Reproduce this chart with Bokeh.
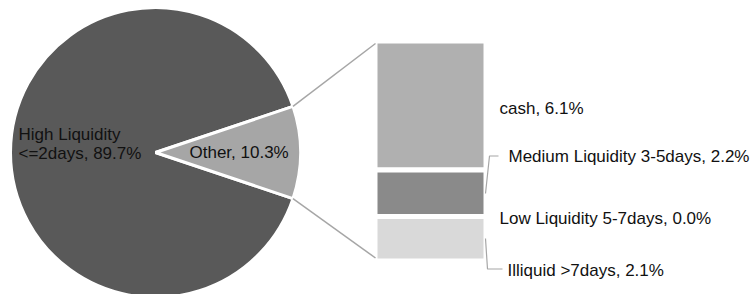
from bokeh.plotting import figure
from bokeh.models import Range1d
from bokeh.embed import file_html
from bokeh.resources import INLINE
from bokeh.core.properties import value
import math

# ---- data ----
pie_names = ["High Liquidity\n<=2days", "Other"]
pie_values = [89.7, 10.3]
pie_colors = ["#595959", "#a6a6a6"]

bar_names = ["cash", "Medium Liquidity 3-5days", "Low Liquidity 5-7days", "Illiquid >7days"]
bar_values = [6.1, 2.2, 0.0, 2.1]
bar_colors = ["#b0b0b0", "#8a8a8a", "#c8c8c8", "#d9d9d9"]

W, H = 754, 294
FONT = value("Liberation Sans")
FS = "17px"
TXT = "#111111"
LINEC = "#a6a6a6"

p = figure(width=W, height=H, output_backend="svg", toolbar_location=None,
           x_range=Range1d(0, W), y_range=Range1d(H, 0), min_border=0)
p.axis.visible = False
p.grid.visible = False
p.outline_line_color = None
p.background_fill_color = "white"

# ---- pie ----
cx, cy, r = 155, 152, 145
other_frac = pie_values[1] / sum(pie_values)
half = other_frac * math.pi  # half angle of "Other" slice, centered on right
starts = [half, -half]
ends = [2 * math.pi - half, half]
p.wedge(x=[cx, cx], y=[cy, cy], radius=r, start_angle=starts, end_angle=ends,
        fill_color=pie_colors, line_color="white", line_width=3)

# pie labels
hl_lines = f"{pie_names[0]}, {pie_values[0]:.1f}%".split("\n")
p.text(x=[18] * len(hl_lines), y=[134 + 19 * i for i in range(len(hl_lines))],
       text=hl_lines, text_font=FONT, text_font_size=FS,
       text_color=TXT, text_align="left", text_baseline="middle")
ot_label = f"{pie_names[1]}, {pie_values[1]:.1f}%"
p.text(x=[189], y=[152], text=[ot_label], text_font=FONT, text_font_size=FS,
       text_color=TXT, text_align="left", text_baseline="middle")

# ---- stacked bar ----
bx0, bx1 = 374.5, 485.5
by_top, by_bot = 40.5, 260.5
scale = (by_bot - by_top) / sum(bar_values)
tops, bots = [], []
acc = by_top
for v in bar_values:
    tops.append(acc)
    acc += v * scale
    bots.append(acc)
nz = [i for i, v in enumerate(bar_values) if v > 0]
p.quad(left=[bx0] * len(nz), right=[bx1] * len(nz),
       top=[tops[i] for i in nz], bottom=[bots[i] for i in nz],
       fill_color=[bar_colors[i] for i in nz], line_color="white", line_width=5)

# connector lines from pie to bar
ex = cx + r * math.cos(half)
ey_up = cy - r * math.sin(half)
ey_dn = cy + r * math.sin(half)
p.segment(x0=[ex, ex], y0=[ey_up, ey_dn], x1=[375, 375], y1=[43, 257.5],
          line_color=LINEC, line_width=1.5)

# leader lines
p.line(x=[485, 489, 498], y=[193, 155.5, 155.5], line_color=LINEC, line_width=1.2)
p.line(x=[485, 487, 502], y=[238, 268.5, 268.5], line_color=LINEC, line_width=1.2)

# bar labels
lab_x = [499, 508, 499, 507]
lab_y = [108, 155.5, 218, 270]
labels = [f"{n}, {v:.1f}%" for n, v in zip(bar_names, bar_values)]
p.text(x=lab_x, y=lab_y, text=labels, text_font=FONT, text_font_size=FS,
       text_color=TXT, text_align="left", text_baseline="middle")

html = file_html(p, INLINE)
html = html.replace("<head>", "<head><style>html,body{margin:0;padding:0;overflow:hidden}</style>", 1)
open("out.html", "w").write(html)
